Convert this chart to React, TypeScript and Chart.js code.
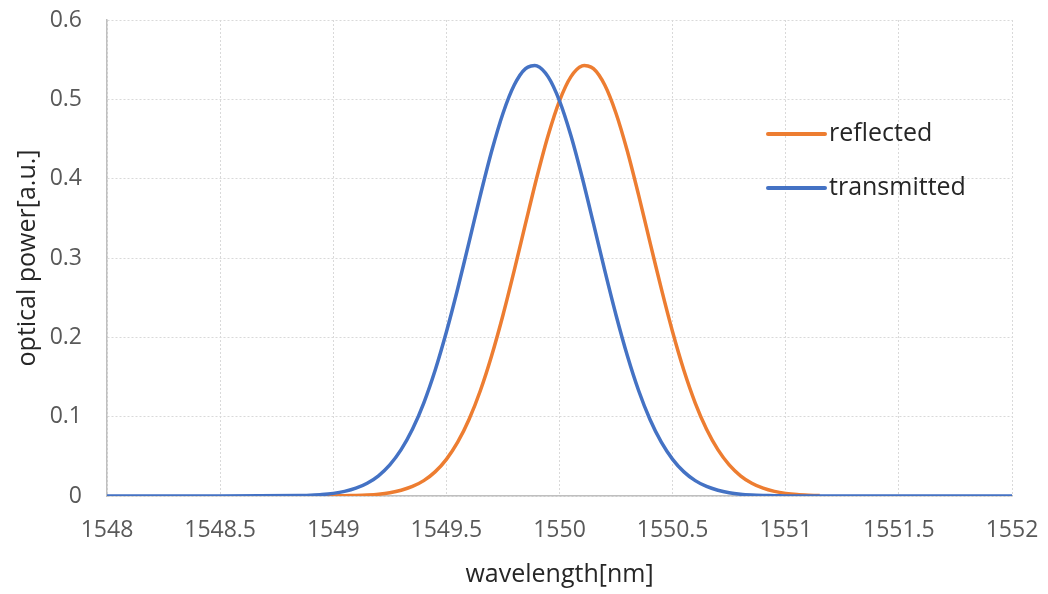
import React, { useEffect, useRef } from "react";
import { Chart, registerables } from "chart.js";

Chart.register(...registerables);

// wavelength grid [nm]
const wavelengths = [
  1548.85, 1548.9, 1548.95, 1549.0, 1549.05, 1549.1, 1549.15, 1549.2, 1549.25, 1549.3,
  1549.35, 1549.4, 1549.45, 1549.5, 1549.55, 1549.6, 1549.65, 1549.7, 1549.75, 1549.8,
  1549.85, 1549.9, 1549.95, 1550.0, 1550.05, 1550.1, 1550.15, 1550.2, 1550.25, 1550.3,
  1550.35, 1550.4, 1550.45, 1550.5, 1550.55, 1550.6, 1550.65, 1550.7, 1550.75, 1550.8,
  1550.85, 1550.9, 1550.95, 1551.0, 1551.05, 1551.1, 1551.15,
];

const transmitted = [
  0.0005, 0.001, 0.0018, 0.0033, 0.0058, 0.0098, 0.0161, 0.0255, 0.0392, 0.0584,
  0.0841, 0.1172, 0.1582, 0.2067, 0.2613, 0.3198, 0.3789, 0.4345, 0.4822, 0.518,
  0.5387, 0.5422, 0.5283, 0.4981, 0.4547, 0.4018, 0.3436, 0.2844, 0.2279, 0.1768,
  0.1327, 0.0964, 0.0678, 0.0462, 0.0304, 0.0194, 0.012, 0.0072, 0.0041, 0.0023,
  0.0013, 0.0007, 0.0003, 0.0001, 0.0001, 0, 0,
];

const reflected = [
  0, 0, 0.0001, 0.0001, 0.0003, 0.0007, 0.0013, 0.0023, 0.0041, 0.0072,
  0.012, 0.0194, 0.0304, 0.0462, 0.0678, 0.0964, 0.1327, 0.1768, 0.2279, 0.2844,
  0.3436, 0.4018, 0.4547, 0.4981, 0.5283, 0.5422, 0.5387, 0.518, 0.4822, 0.4345,
  0.3789, 0.3198, 0.2613, 0.2067, 0.1582, 0.1172, 0.0841, 0.0584, 0.0392, 0.0255,
  0.0161, 0.0098, 0.0058, 0.0033, 0.0018, 0.001, 0.0005,
];

// flat zero baseline of the transmitted trace outside the grid
const transmittedLeftX = [1548, 1548.5];
const transmittedLeftY = [0, 0];
const transmittedRightX = [1551.5, 1552];
const transmittedRightY = [0, 0];

const xTicks = [1548, 1548.5, 1549, 1549.5, 1550, 1550.5, 1551, 1551.5, 1552];
const yTicks = [0, 0.1, 0.2, 0.3, 0.4, 0.5, 0.6];

const seriesNames = ["reflected", "transmitted"];
const seriesColors = ["#ED7D31", "#4472C4"];

const FONT = "'Open Sans', 'Noto Sans', sans-serif";

export default function App() {
  const ref = useRef<HTMLCanvasElement | null>(null);

  useEffect(() => {
    if (!ref.current) return;
    const blueX = [...transmittedLeftX, ...wavelengths, ...transmittedRightX];
    const blueY = [...transmittedLeftY, ...transmitted, ...transmittedRightY];

    const legendPlugin = {
      id: "insideLegend",
      afterDraw(chart: any) {
        const ctx = chart.ctx;
        const rows = [
          { y: 134, name: seriesNames[0], color: seriesColors[0] },
          { y: 188, name: seriesNames[1], color: seriesColors[1] },
        ];
        ctx.save();
        rows.forEach((r) => {
          ctx.strokeStyle = r.color;
          ctx.lineWidth = 4;
          ctx.lineCap = "round";
          ctx.beginPath();
          ctx.moveTo(768, r.y);
          ctx.lineTo(825, r.y);
          ctx.stroke();
          ctx.fillStyle = "#262626";
          ctx.font = `25px ${FONT}`;
          ctx.textAlign = "left";
          ctx.textBaseline = "middle";
          ctx.fillText(r.name, 829, r.y);
        });
        ctx.restore();
      },
    };

    const chart = new Chart(ref.current, {
      type: "line",
      data: {
        datasets: [
          {
            label: seriesNames[0],
            data: wavelengths.map((x, i) => ({ x, y: reflected[i] })),
            borderColor: seriesColors[0],
            borderWidth: 3.5,
            pointRadius: 0,
            tension: 0.3,
            order: 1,
          },
          {
            label: seriesNames[1],
            data: blueX.map((x, i) => ({ x, y: blueY[i] })),
            borderColor: seriesColors[1],
            borderWidth: 3.5,
            pointRadius: 0,
            tension: 0.3,
            order: 0,
          },
        ],
      },
      options: {
        animation: false,
        responsive: true,
        maintainAspectRatio: false,
        layout: { padding: { left: 0, top: 20, right: 36, bottom: 0 } },
        plugins: {
          legend: { display: false },
          tooltip: { enabled: false },
        },
        scales: {
          x: {
            type: "linear",
            min: xTicks[0],
            max: xTicks[xTicks.length - 1],
            afterBuildTicks: (s: any) => {
              s.ticks = xTicks.map((v) => ({ value: v }));
            },
            afterFit: (s: any) => {
              s.height = 98;
              s.paddingLeft = 0;
              s.paddingRight = 0;
            },
            ticks: {
              color: "#595959",
              font: { family: FONT, size: 23 },
              padding: 21,
              maxRotation: 0,
              autoSkip: false,
              callback: (v: any) => String(v),
            },
            grid: { color: "#d9d9d9", lineWidth: 1, drawTicks: false },
            border: { display: true, color: "#bfbfbf", width: 1.5, dash: [2, 2] },
            title: {
              display: true,
              text: "wavelength[nm]",
              color: "#262626",
              font: { family: FONT, size: 25 },
              padding: { top: 4, bottom: 4 },
            },
          },
          y: {
            type: "linear",
            min: yTicks[0],
            max: yTicks[yTicks.length - 1],
            afterBuildTicks: (s: any) => {
              s.ticks = yTicks.map((v) => ({ value: v }));
            },
            afterFit: (s: any) => {
              s.width = 107;
              s.paddingTop = 0;
              s.paddingBottom = 0;
            },
            ticks: {
              color: "#595959",
              font: { family: FONT, size: 23 },
              padding: 25,
              callback: (v: any) => String(v),
            },
            grid: { color: "#d9d9d9", lineWidth: 1, drawTicks: false },
            border: { display: true, color: "#bfbfbf", width: 1.5, dash: [2, 2] },
            title: {
              display: true,
              text: "optical power[a.u.]",
              color: "#262626",
              font: { family: FONT, size: 25 },
              padding: { top: 13, bottom: 13 },
            },
          },
        },
      },
      plugins: [legendPlugin],
    });
    return () => chart.destroy();
  }, []);

  return (
    <div style={{ position: "absolute", left: 0, top: 0, width: 1048, height: 594, background: "#fff" }}>
      <canvas ref={ref} />
    </div>
  );
}
